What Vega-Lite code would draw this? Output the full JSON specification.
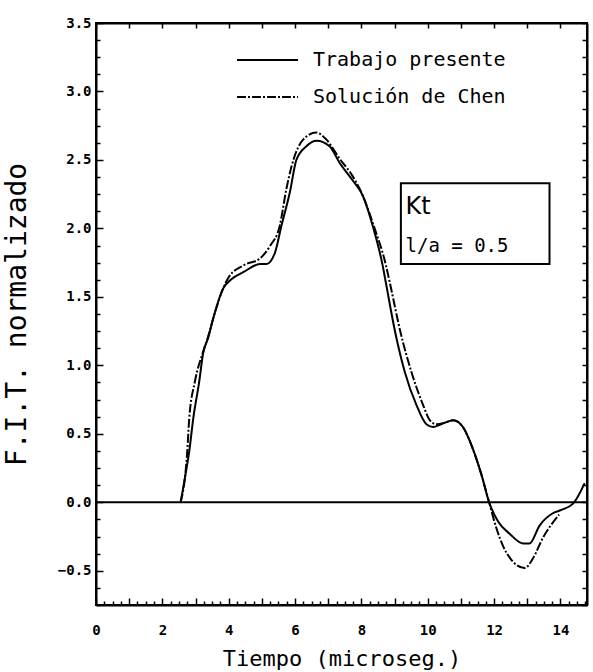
{
  "$schema": "https://vega.github.io/schema/vega-lite/v6.json",
  "width": 491,
  "height": 582,
  "autosize": {"type": "none"},
  "padding": {"left": 96, "top": 23, "right": 6, "bottom": 67},
  "background": "white",
  "data": {"values": [{}]},
  "config": {
    "view": {"stroke": "black", "strokeWidth": 2},
    "axis": {"domain": true, "domainColor": "black", "domainWidth": 2, "grid": false, "tickColor": "black", "tickWidth": 1.5, "labelColor": "black", "titleColor": "black", "labelOverlap": false, "labelFlush": false}
  },
  "datasets": {
    "curvas": [
      {"serie": "Trabajo presente", "t": 2.55, "fit": 0},
      {"serie": "Trabajo presente", "t": 2.73, "fit": 0.25},
      {"serie": "Trabajo presente", "t": 2.81, "fit": 0.37},
      {"serie": "Trabajo presente", "t": 2.93, "fit": 0.61},
      {"serie": "Trabajo presente", "t": 3.11, "fit": 0.88},
      {"serie": "Trabajo presente", "t": 3.23, "fit": 1.09},
      {"serie": "Trabajo presente", "t": 3.38, "fit": 1.2},
      {"serie": "Trabajo presente", "t": 3.53, "fit": 1.34},
      {"serie": "Trabajo presente", "t": 3.83, "fit": 1.56},
      {"serie": "Trabajo presente", "t": 4.09, "fit": 1.63},
      {"serie": "Trabajo presente", "t": 4.44, "fit": 1.68},
      {"serie": "Trabajo presente", "t": 4.94, "fit": 1.74},
      {"serie": "Trabajo presente", "t": 5.14, "fit": 1.74},
      {"serie": "Trabajo presente", "t": 5.39, "fit": 1.82},
      {"serie": "Trabajo presente", "t": 5.59, "fit": 2.02},
      {"serie": "Trabajo presente", "t": 5.84, "fit": 2.26},
      {"serie": "Trabajo presente", "t": 6.04, "fit": 2.5},
      {"serie": "Trabajo presente", "t": 6.34, "fit": 2.6},
      {"serie": "Trabajo presente", "t": 6.65, "fit": 2.64},
      {"serie": "Trabajo presente", "t": 7.04, "fit": 2.6},
      {"serie": "Trabajo presente", "t": 7.34, "fit": 2.48},
      {"serie": "Trabajo presente", "t": 7.74, "fit": 2.35},
      {"serie": "Trabajo presente", "t": 8.04, "fit": 2.24},
      {"serie": "Trabajo presente", "t": 8.34, "fit": 2.02},
      {"serie": "Trabajo presente", "t": 8.64, "fit": 1.73},
      {"serie": "Trabajo presente", "t": 8.74, "fit": 1.6},
      {"serie": "Trabajo presente", "t": 9.02, "fit": 1.24},
      {"serie": "Trabajo presente", "t": 9.31, "fit": 0.95},
      {"serie": "Trabajo presente", "t": 9.66, "fit": 0.71},
      {"serie": "Trabajo presente", "t": 9.96, "fit": 0.57},
      {"serie": "Trabajo presente", "t": 10.16, "fit": 0.55},
      {"serie": "Trabajo presente", "t": 10.4, "fit": 0.57},
      {"serie": "Trabajo presente", "t": 10.77, "fit": 0.6},
      {"serie": "Trabajo presente", "t": 11.06, "fit": 0.55},
      {"serie": "Trabajo presente", "t": 11.36, "fit": 0.39},
      {"serie": "Trabajo presente", "t": 11.62, "fit": 0.2},
      {"serie": "Trabajo presente", "t": 11.85, "fit": 0.0},
      {"serie": "Trabajo presente", "t": 12.12, "fit": -0.14},
      {"serie": "Trabajo presente", "t": 12.47, "fit": -0.23},
      {"serie": "Trabajo presente", "t": 12.87, "fit": -0.3},
      {"serie": "Trabajo presente", "t": 13.07, "fit": -0.3},
      {"serie": "Trabajo presente", "t": 13.37, "fit": -0.17},
      {"serie": "Trabajo presente", "t": 13.77, "fit": -0.08},
      {"serie": "Trabajo presente", "t": 13.98, "fit": -0.06},
      {"serie": "Trabajo presente", "t": 14.38, "fit": -0.01},
      {"serie": "Trabajo presente", "t": 14.73, "fit": 0.14},
      {"serie": "Solución de Chen", "t": 2.55, "fit": 0},
      {"serie": "Solución de Chen", "t": 2.71, "fit": 0.25},
      {"serie": "Solución de Chen", "t": 2.75, "fit": 0.37},
      {"serie": "Solución de Chen", "t": 2.81, "fit": 0.61},
      {"serie": "Solución de Chen", "t": 2.98, "fit": 0.88},
      {"serie": "Solución de Chen", "t": 3.23, "fit": 1.1},
      {"serie": "Solución de Chen", "t": 3.38, "fit": 1.21},
      {"serie": "Solución de Chen", "t": 3.53, "fit": 1.34},
      {"serie": "Solución de Chen", "t": 3.83, "fit": 1.56},
      {"serie": "Solución de Chen", "t": 3.99, "fit": 1.64},
      {"serie": "Solución de Chen", "t": 4.44, "fit": 1.73},
      {"serie": "Solución de Chen", "t": 4.94, "fit": 1.78},
      {"serie": "Solución de Chen", "t": 5.24, "fit": 1.87},
      {"serie": "Solución de Chen", "t": 5.54, "fit": 2.02},
      {"serie": "Solución de Chen", "t": 5.74, "fit": 2.29},
      {"serie": "Solución de Chen", "t": 5.89, "fit": 2.45},
      {"serie": "Solución de Chen", "t": 6.25, "fit": 2.65},
      {"serie": "Solución de Chen", "t": 6.64, "fit": 2.7},
      {"serie": "Solución de Chen", "t": 6.94, "fit": 2.65},
      {"serie": "Solución de Chen", "t": 7.34, "fit": 2.51},
      {"serie": "Solución de Chen", "t": 7.74, "fit": 2.38},
      {"serie": "Solución de Chen", "t": 8.04, "fit": 2.24},
      {"serie": "Solución de Chen", "t": 8.37, "fit": 2.02},
      {"serie": "Solución de Chen", "t": 8.74, "fit": 1.73},
      {"serie": "Solución de Chen", "t": 8.86, "fit": 1.6},
      {"serie": "Solución de Chen", "t": 9.18, "fit": 1.24},
      {"serie": "Solución de Chen", "t": 9.51, "fit": 0.95},
      {"serie": "Solución de Chen", "t": 9.86, "fit": 0.71},
      {"serie": "Solución de Chen", "t": 10.06, "fit": 0.6},
      {"serie": "Solución de Chen", "t": 10.26, "fit": 0.57},
      {"serie": "Solución de Chen", "t": 10.5, "fit": 0.58},
      {"serie": "Solución de Chen", "t": 10.77, "fit": 0.6},
      {"serie": "Solución de Chen", "t": 11.06, "fit": 0.55},
      {"serie": "Solución de Chen", "t": 11.36, "fit": 0.39},
      {"serie": "Solución de Chen", "t": 11.62, "fit": 0.2},
      {"serie": "Solución de Chen", "t": 11.85, "fit": 0.0},
      {"serie": "Solución de Chen", "t": 12.07, "fit": -0.19},
      {"serie": "Solución de Chen", "t": 12.27, "fit": -0.32},
      {"serie": "Solución de Chen", "t": 12.52, "fit": -0.42},
      {"serie": "Solución de Chen", "t": 12.92, "fit": -0.48},
      {"serie": "Solución de Chen", "t": 13.17, "fit": -0.41},
      {"serie": "Solución de Chen", "t": 13.47, "fit": -0.26},
      {"serie": "Solución de Chen", "t": 13.96, "fit": -0.09}
    ]
  },
  "resolve": {"axis": {"x": "independent", "y": "independent"}},
  "layer": [
    {
      "data": {"name": "curvas"},
      "transform": [{"filter": "datum.serie == 'Trabajo presente'"}],
      "mark": {"type": "line", "interpolate": "monotone", "strokeWidth": 2, "color": "black"},
      "encoding": {
        "x": {
          "field": "t", "type": "quantitative",
          "scale": {"domain": [0, 14.8], "nice": false, "zero": false},
          "axis": {
            "orient": "bottom",
            "title": "Tiempo (microseg.)",
            "titleFont": "DejaVu Sans Mono", "titleFontSize": 22, "titleFontWeight": "normal", "titlePadding": 8,
            "values": [0,0.25,0.5,0.75,1,1.25,1.5,1.75,2,2.25,2.5,2.75,3,3.25,3.5,3.75,4,4.25,4.5,4.75,5,5.25,5.5,5.75,6,6.25,6.5,6.75,7,7.25,7.5,7.75,8,8.25,8.5,8.75,9,9.25,9.5,9.75,10,10.25,10.5,10.75,11,11.25,11.5,11.75,12,12.25,12.5,12.75,13,13.25,13.5,13.75,14,14.25,14.5,14.75],
            "labelExpr": "datum.value % 2 == 0 ? format(datum.value, 'd') : ''",
            "tickSize": {"expr": "datum.value % 1 == 0 ? -7 : -4"},
            "labelPadding": 25,
            "labelFont": "DejaVu Sans Mono", "labelFontSize": 14, "labelFontWeight": "bold"
          }
        },
        "y": {
          "field": "fit", "type": "quantitative",
          "scale": {"domain": [-0.75, 3.5], "nice": false, "zero": false},
          "axis": {
            "orient": "left",
            "title": "F.I.T. normalizado",
            "titleFont": "DejaVu Sans Mono", "titleFontSize": 28, "titleFontWeight": "normal", "titlePadding": 26,
            "values": [-0.75,-0.625,-0.5,-0.375,-0.25,-0.125,0,0.125,0.25,0.375,0.5,0.625,0.75,0.875,1,1.125,1.25,1.375,1.5,1.625,1.75,1.875,2,2.125,2.25,2.375,2.5,2.625,2.75,2.875,3,3.125,3.25,3.375,3.5],
            "labelExpr": "(datum.value * 2) % 1 == 0 ? format(datum.value, '.1f') : ''",
            "tickSize": {"expr": "(datum.value * 2) % 1 == 0 ? -7 : -4"},
            "labelPadding": 12,
            "labelFont": "DejaVu Sans Mono", "labelFontSize": 14, "labelFontWeight": "bold"
          }
        }
      }
    },
    {
      "data": {"name": "curvas"},
      "transform": [{"filter": "datum.serie == 'Solución de Chen'"}],
      "mark": {"type": "line", "interpolate": "monotone", "strokeWidth": 2, "color": "black", "strokeDash": [9, 2, 2, 2]},
      "encoding": {
        "x": {
          "field": "t", "type": "quantitative",
          "scale": {"domain": [0, 14.8], "nice": false, "zero": false},
          "axis": {"orient": "top", "title": null, "labels": false, "values": [0,1,2,3,4,5,6,7,8,9,10,11,12,13,14], "tickSize": -5}
        },
        "y": {
          "field": "fit", "type": "quantitative",
          "scale": {"domain": [-0.75, 3.5], "nice": false, "zero": false},
          "axis": {
            "orient": "right", "title": null, "labels": false,
            "values": [-0.75,-0.625,-0.5,-0.375,-0.25,-0.125,0,0.125,0.25,0.375,0.5,0.625,0.75,0.875,1,1.125,1.25,1.375,1.5,1.625,1.75,1.875,2,2.125,2.25,2.375,2.5,2.625,2.75,2.875,3,3.125,3.25,3.375,3.5],
            "tickSize": -5
          }
        }
      }
    },
    {
      "mark": {"type": "rule", "strokeWidth": 2, "color": "black"},
      "encoding": {
        "x": {"datum": 4.25, "type": "quantitative", "scale": {"domain": [0, 14.8], "nice": false, "zero": false}, "axis": null},
        "x2": {"datum": 6.09},
        "y": {"datum": 3.23, "type": "quantitative", "scale": {"domain": [-0.75, 3.5], "nice": false, "zero": false}, "axis": null}
      }
    },
    {
      "mark": {"type": "rule", "strokeWidth": 2, "color": "black", "strokeDash": [9, 2, 2, 2]},
      "encoding": {
        "x": {"datum": 4.25, "type": "quantitative", "scale": {"domain": [0, 14.8], "nice": false, "zero": false}, "axis": null},
        "x2": {"datum": 6.09},
        "y": {"datum": 2.96, "type": "quantitative", "scale": {"domain": [-0.75, 3.5], "nice": false, "zero": false}, "axis": null}
      }
    },
    {
      "mark": {"type": "text", "text": "Trabajo presente", "align": "left", "baseline": "middle", "font": "DejaVu Sans Mono", "fontSize": 20, "color": "black"},
      "encoding": {
        "x": {"datum": 6.54, "type": "quantitative", "scale": {"domain": [0, 14.8], "nice": false, "zero": false}, "axis": null},
        "y": {"datum": 3.23, "type": "quantitative", "scale": {"domain": [-0.75, 3.5], "nice": false, "zero": false}, "axis": null}
      }
    },
    {
      "mark": {"type": "text", "text": "Solución de Chen", "align": "left", "baseline": "middle", "font": "DejaVu Sans Mono", "fontSize": 20, "color": "black"},
      "encoding": {
        "x": {"datum": 6.54, "type": "quantitative", "scale": {"domain": [0, 14.8], "nice": false, "zero": false}, "axis": null},
        "y": {"datum": 2.96, "type": "quantitative", "scale": {"domain": [-0.75, 3.5], "nice": false, "zero": false}, "axis": null}
      }
    },
    {
      "mark": {"type": "rect", "fill": "white", "stroke": "black", "strokeWidth": 2},
      "encoding": {
        "x": {"datum": 9.19, "type": "quantitative", "scale": {"domain": [0, 14.8], "nice": false, "zero": false}, "axis": null},
        "x2": {"datum": 13.67},
        "y": {"datum": 2.33, "type": "quantitative", "scale": {"domain": [-0.75, 3.5], "nice": false, "zero": false}, "axis": null},
        "y2": {"datum": 1.74}
      }
    },
    {
      "mark": {"type": "rule", "strokeWidth": 2, "color": "black"},
      "encoding": {
        "y": {"datum": 0, "type": "quantitative", "scale": {"domain": [-0.75, 3.5], "nice": false, "zero": false}, "axis": null}
      }
    },
    {
      "mark": {"type": "text", "text": "Kt", "align": "left", "baseline": "middle", "font": "DejaVu Sans", "fontSize": 24, "color": "black"},
      "encoding": {
        "x": {"datum": 9.33, "type": "quantitative", "scale": {"domain": [0, 14.8], "nice": false, "zero": false}, "axis": null},
        "y": {"datum": 2.16, "type": "quantitative", "scale": {"domain": [-0.75, 3.5], "nice": false, "zero": false}, "axis": null}
      }
    },
    {
      "mark": {"type": "text", "text": "l/a = 0.5", "align": "left", "baseline": "middle", "font": "DejaVu Sans Mono", "fontSize": 19, "color": "black"},
      "encoding": {
        "x": {"datum": 9.33, "type": "quantitative", "scale": {"domain": [0, 14.8], "nice": false, "zero": false}, "axis": null},
        "y": {"datum": 1.87, "type": "quantitative", "scale": {"domain": [-0.75, 3.5], "nice": false, "zero": false}, "axis": null}
      }
    }
  ]
}
